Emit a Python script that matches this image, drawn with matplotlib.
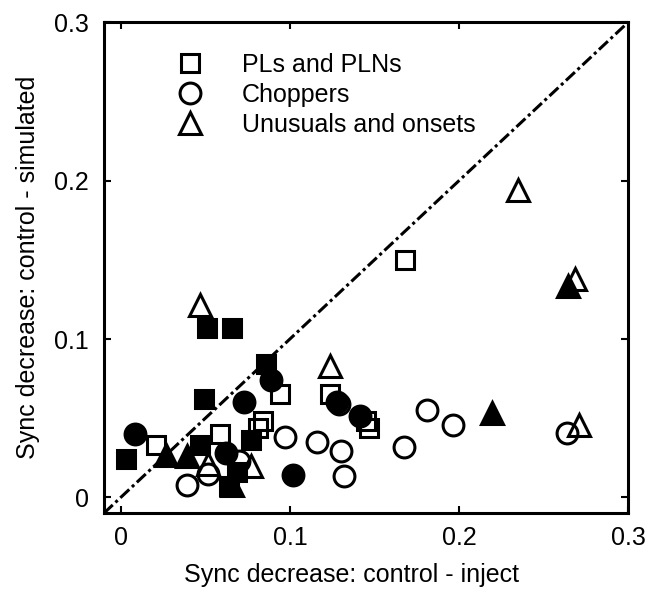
import numpy as np
import matplotlib
matplotlib.use("Agg")
from matplotlib import pyplot as plt
from matplotlib.lines import Line2D

plt.rcParams['font.family'] = ['Liberation Sans', 'DejaVu Sans']

# PLs and PLNs
sq_open_x = [0.0586, 0.084, 0.081, 0.094, 0.0207, 0.124, 0.145, 0.147, 0.168]
sq_open_y = [0.040, 0.048, 0.044, 0.065, 0.033, 0.065, 0.048, 0.044, 0.150]
sq_fill_x = [0.051, 0.0655, 0.086, 0.049, 0.003, 0.047, 0.077, 0.069, 0.064]
sq_fill_y = [0.107, 0.107, 0.084, 0.062, 0.024, 0.033, 0.036, 0.016, 0.007]

# Choppers
ci_open_x = [0.097, 0.070, 0.0517, 0.039, 0.129, 0.181, 0.1967, 0.1675, 0.116, 0.130, 0.132, 0.2637]
ci_open_y = [0.038, 0.023, 0.015, 0.0076, 0.059, 0.0555, 0.046, 0.032, 0.035, 0.029, 0.0133, 0.0407]
ci_fill_x = [0.0083, 0.089, 0.073, 0.0625, 0.102, 0.128, 0.1414]
ci_fill_y = [0.040, 0.074, 0.060, 0.028, 0.014, 0.060, 0.0513]

# Unusuals and onsets
tr_open_x = [0.0467, 0.124, 0.235, 0.2686, 0.271, 0.0517, 0.077]
tr_open_y = [0.1215, 0.083, 0.194, 0.138, 0.0456, 0.021, 0.020]
tr_fill_x = [0.027, 0.039, 0.0655, 0.2647, 0.2197]
tr_fill_y = [0.027, 0.026, 0.0076, 0.1335, 0.053]

ticks = [0, 0.1, 0.2, 0.3]
tick_labels = ['0', '0.1', '0.2', '0.3']

fig = plt.figure(figsize=(6.53, 6.01), dpi=100)
ax = fig.add_axes([0.159, 0.146, 0.803, 0.817])

lim = [-0.01, 0.3]
ax.plot(lim, lim, color='black', linewidth=2.2, dashes=[4, 1.2, 1, 1.2], zorder=1)

mew = 2.2
ms_sq, ms_ci, ms_tr = 12.5, 15, 16
ax.plot(sq_fill_x, sq_fill_y, 's', ms=ms_sq, mfc='black', mec='black', mew=mew, zorder=2)
ax.plot(ci_fill_x, ci_fill_y, 'o', ms=ms_ci, mfc='black', mec='black', mew=mew, zorder=2)
ax.plot(tr_fill_x, tr_fill_y, '^', ms=ms_tr, mfc='black', mec='black', mew=mew, zorder=2)
ax.plot(sq_open_x, sq_open_y, 's', ms=ms_sq, mfc='none', mec='black', mew=mew, zorder=3)
ax.plot(ci_open_x, ci_open_y, 'o', ms=ms_ci, mfc='none', mec='black', mew=mew, zorder=3)
ax.plot(tr_open_x, tr_open_y, '^', ms=ms_tr, mfc='none', mec='black', mew=mew, zorder=3)

ax.set_xlim(lim)
ax.set_ylim(lim)
ax.set_xticks(ticks)
ax.set_xticklabels(tick_labels)
ax.set_yticks(ticks)
ax.set_yticklabels(tick_labels)
ax.tick_params(direction='in', top=True, right=True, length=5, width=1.5,
               labelsize=18, pad=9)
ax.tick_params(axis='y', pad=11)
for s in ax.spines.values():
    s.set_linewidth(2.2)

ax.set_xlabel('Sync decrease: control - inject', fontsize=18)
ax.set_ylabel('Sync decrease: control - simulated', fontsize=18)
ax.xaxis.set_label_coords(0.473, -0.102)
ax.yaxis.set_label_coords(-0.122, 0.5)

handles = [
    Line2D([], [], marker='s', ls='none', ms=ms_sq, mfc='none', mec='black', mew=mew),
    Line2D([], [], marker='o', ls='none', ms=ms_ci, mfc='none', mec='black', mew=mew),
    Line2D([], [], marker='^', ls='none', ms=ms_tr, mfc='none', mec='black', mew=mew),
]
ax.legend(handles, ['PLs and PLNs', 'Choppers', 'Unusuals and onsets'],
          loc='upper left', bbox_to_anchor=(0.073, 0.984), frameon=False,
          fontsize=18, handletextpad=1.1, labelspacing=0.25)

fig.savefig('out.png', dpi=100)
